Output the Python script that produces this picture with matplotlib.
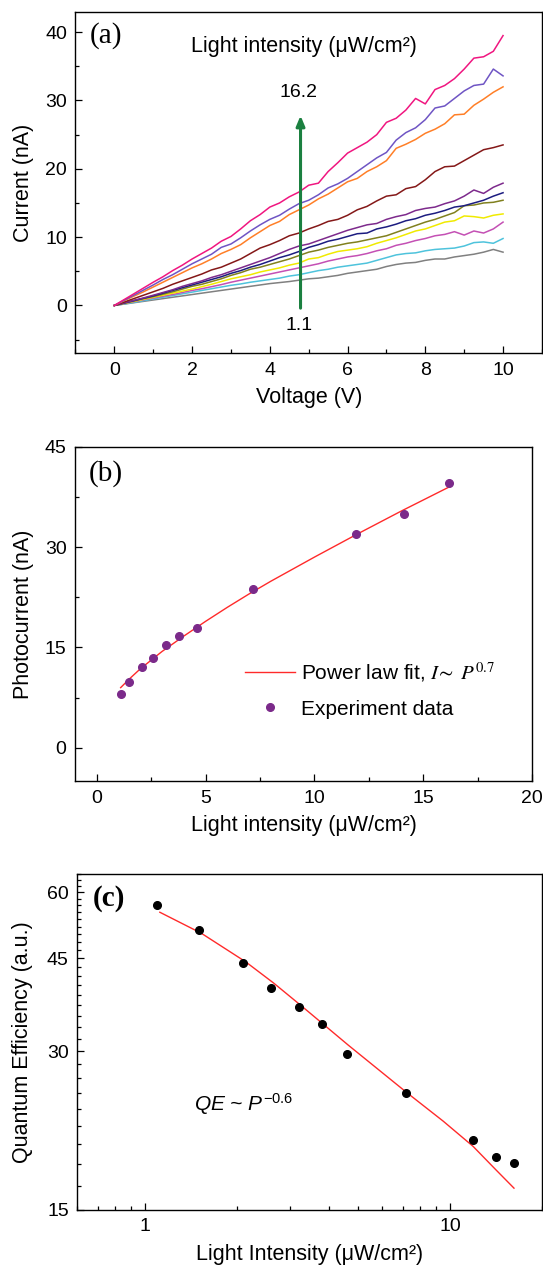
import numpy as np
import matplotlib
matplotlib.use("Agg")
import matplotlib.pyplot as plt
from matplotlib.ticker import MultipleLocator, FixedLocator, LogLocator, NullFormatter, FormatStrFormatter
from matplotlib.lines import Line2D

plt.rcParams["font.family"] = ["Liberation Sans", "DejaVu Sans"]
plt.rcParams["mathtext.fontset"] = "custom"
plt.rcParams["mathtext.it"] = "Liberation Sans:italic"
plt.rcParams["mathtext.rm"] = "Liberation Sans"
plt.rcParams["axes.linewidth"] = 1.0

# ---- (a) I-V curves for each light intensity ----
voltage = np.linspace(0, 10, 41)
i_16p2 = [0, 0.85, 1.7, 2.55, 3.4, 4.2, 5.1, 5.9, 6.8, 7.6, 8.4, 9.4, 10.1, 11.2, 12.4, 13.3, 14.4, 15.0, 15.9, 16.6,
          17.6, 17.9, 19.6, 20.9, 22.3, 23.1, 23.9, 25.0, 26.8, 27.4, 28.6, 30.3, 29.5, 31.6, 32.2, 33.2, 34.6, 36.2,
          36.4, 37.2, 39.5]
i_14p1 = [0, 0.75, 1.5, 2.25, 3.0, 3.8, 4.5, 5.3, 6.1, 6.8, 7.5, 8.5, 9.0, 9.9, 10.9, 11.8, 12.6, 13.2, 14.1, 14.9,
          15.4, 16.2, 17.2, 17.8, 18.6, 19.6, 20.6, 21.6, 22.4, 24.2, 25.3, 26.0, 27.2, 28.9, 29.2, 30.3, 31.4, 32.2,
          32.4, 34.6, 33.6]
i_11p9 = [0, 0.7, 1.35, 2.0, 2.7, 3.4, 4.1, 4.8, 5.5, 6.1, 6.8, 7.6, 8.2, 8.9, 9.9, 10.8, 11.7, 12.3, 13.3, 14.0,
          14.7, 15.6, 16.3, 17.2, 18.1, 18.6, 19.6, 20.3, 21.2, 23.0, 23.6, 24.3, 25.2, 25.8, 26.6, 27.9, 28.0, 29.3,
          30.2, 31.2, 32.0]
i_7p2 = [0, 0.5, 1.0, 1.5, 2.0, 2.5, 3.1, 3.6, 4.1, 4.6, 5.2, 5.6, 6.2, 6.8, 7.6, 8.4, 8.9, 9.5, 10.2, 10.6,
         11.2, 11.7, 12.3, 12.6, 13.2, 14.0, 14.5, 15.3, 16.0, 16.2, 17.1, 17.4, 18.4, 19.6, 20.3, 20.4, 21.2, 22.0,
         22.8, 23.1, 23.5]
i_4p6 = [0, 0.38, 0.75, 1.1, 1.5, 1.9, 2.3, 2.8, 3.2, 3.6, 4.1, 4.5, 5.0, 5.5, 6.0, 6.5, 7.0, 7.6, 8.2, 8.7,
         9.0, 9.5, 10.0, 10.5, 11.0, 11.4, 11.8, 12.0, 12.6, 13.0, 13.3, 13.9, 14.2, 14.4, 14.9, 15.3, 16.0, 16.9,
         16.4, 17.3, 17.9]
i_3p8 = [0, 0.35, 0.7, 1.05, 1.4, 1.8, 2.2, 2.6, 3.0, 3.4, 3.8, 4.2, 4.7, 5.1, 5.6, 6.0, 6.5, 7.0, 7.4, 7.9,
         8.5, 8.9, 9.4, 9.7, 10.1, 10.5, 10.6, 11.2, 11.5, 11.9, 12.4, 12.7, 13.2, 13.5, 13.9, 14.4, 14.6, 15.0,
         15.4, 16.0, 16.5]
i_3p2 = [0, 0.33, 0.65, 1.0, 1.3, 1.65, 2.0, 2.4, 2.8, 3.1, 3.5, 3.9, 4.4, 4.8, 5.3, 5.6, 6.0, 6.4, 6.8, 7.3,
         7.8, 8.1, 8.5, 8.8, 9.1, 9.3, 9.6, 9.9, 10.2, 10.7, 11.2, 11.7, 12.2, 12.6, 13.1, 13.6, 14.6, 14.7,
         15.0, 15.1, 15.4]
i_2p6 = [0, 0.3, 0.6, 0.9, 1.2, 1.5, 1.8, 2.1, 2.4, 2.75, 3.1, 3.5, 3.9, 4.2, 4.5, 4.9, 5.2, 5.5, 5.9, 6.2,
         6.8, 7.0, 7.5, 7.9, 8.1, 8.3, 8.6, 9.1, 9.5, 9.9, 10.4, 10.9, 11.2, 11.7, 12.2, 12.4, 13.1, 13.0,
         12.8, 13.2, 13.4]
i_2p1 = [0, 0.27, 0.55, 0.83, 1.1, 1.35, 1.6, 1.9, 2.2, 2.45, 2.75, 3.05, 3.4, 3.7, 4.0, 4.3, 4.6, 4.9, 5.2, 5.5,
         5.8, 6.1, 6.5, 6.8, 7.1, 7.3, 7.6, 8.0, 8.3, 8.8, 9.1, 9.5, 9.8, 10.2, 10.4, 10.8, 10.3, 10.9,
         10.6, 11.2, 12.2]
i_1p5 = [0, 0.22, 0.45, 0.7, 0.95, 1.2, 1.45, 1.7, 1.95, 2.2, 2.45, 2.7, 2.95, 3.15, 3.4, 3.6, 3.8, 4.0, 4.3, 4.5,
         4.8, 5.1, 5.3, 5.6, 5.8, 6.0, 6.2, 6.6, 7.0, 7.4, 7.6, 7.7, 8.0, 8.2, 8.3, 8.4, 8.7, 9.2,
         9.3, 9.1, 9.8]
i_1p1 = [0, 0.2, 0.4, 0.6, 0.8, 1.0, 1.2, 1.4, 1.6, 1.8, 2.0, 2.2, 2.4, 2.6, 2.8, 3.0, 3.2, 3.35, 3.5, 3.7,
         3.9, 4.0, 4.2, 4.4, 4.7, 4.9, 5.1, 5.3, 5.7, 6.0, 6.2, 6.3, 6.6, 6.8, 6.8, 7.1, 7.3, 7.5,
         7.8, 8.2, 7.8]

iv_curves = [i_1p1, i_1p5, i_2p1, i_2p6, i_3p2, i_3p8, i_4p6, i_7p2, i_11p9, i_14p1, i_16p2]
iv_colors = ["#808080", "#4ec3dc", "#c450b4", "#f0ea00", "#80801e", "#1c1c80",
             "#7d2a8c", "#841818", "#ff7f27", "#6f55c4", "#f01680"]

# ---- (b) photocurrent vs intensity ----
intensity = [1.1, 1.5, 2.1, 2.6, 3.2, 3.8, 4.6, 7.2, 11.9, 14.1, 16.2]
photocurrent = [8.1, 9.8, 12.1, 13.4, 15.3, 16.7, 17.9, 23.7, 32.0, 34.9, 39.5]
fit_p = [1.1, 1.5, 2.0, 3.0, 4.0, 5.0, 6.0, 7.0, 8.0, 10.0, 12.0, 14.0, 16.2]
fit_i = [9.0, 10.3, 11.8, 14.4, 16.7, 18.9, 21.0, 23.0, 24.9, 28.5, 32.0, 35.4, 39.0]

# ---- (c) quantum efficiency vs intensity ----
qe = [56.8, 50.9, 44.1, 39.5, 36.3, 33.8, 29.6, 25.0, 20.4, 18.9, 18.4]
qe_fit_p = [1.12, 1.53, 2.14, 2.64, 3.25, 3.83, 4.64, 7.24, 9.5, 11.9, 14.1, 16.2]
qe_fit = [55.0, 50.2, 44.3, 40.4, 36.6, 33.8, 30.8, 25.0, 22.1, 19.8, 17.9, 16.5]

fig = plt.figure(figsize=(5.43, 12.69), dpi=100)
ax_a = fig.add_axes([0.139, 0.7216, 0.859, 0.2692])
ax_b = fig.add_axes([0.138, 0.3843, 0.842, 0.2637])
ax_c = fig.add_axes([0.142, 0.0465, 0.856, 0.2648])

TICK = 14
LAB = 15.5
for ax in (ax_a, ax_b, ax_c):
    ax.tick_params(which="both", direction="in", top=False, right=False, labelsize=TICK, width=0.9, pad=6)
    ax.tick_params(which="major", length=5)
    ax.tick_params(which="minor", length=3)

# (a)
for cur, col in zip(iv_curves, iv_colors):
    ax_a.plot(voltage, cur, color=col, lw=1.1)
ax_a.annotate("", xy=(4.79, 28.2), xytext=(4.79, -0.8),
              arrowprops=dict(arrowstyle="-|>,head_width=0.25,head_length=0.6", color="#1b8040", lw=2.2))
ax_a.text(4.73, 31.1, "16.2", ha="center", va="center", fontsize=TICK)
ax_a.text(4.76, -2.9, "1.1", ha="center", va="center", fontsize=TICK)
ax_a.text(4.89, 37.9, "Light intensity (μW/cm²)", ha="center", va="center", fontsize=LAB)
ax_a.text(0.03, 0.93, "(a)", transform=ax_a.transAxes, fontsize=21, family="Liberation Serif", va="center")
ax_a.set_xlim(-1, 11)
ax_a.set_ylim(-7, 43)
ax_a.xaxis.set_major_locator(MultipleLocator(2))
ax_a.xaxis.set_minor_locator(MultipleLocator(1))
ax_a.yaxis.set_major_locator(MultipleLocator(10))
ax_a.yaxis.set_minor_locator(MultipleLocator(5))
ax_a.set_xlabel("Voltage (V)", fontsize=LAB)
ax_a.set_ylabel("Current (nA)", fontsize=LAB)

# (b)
ax_b.plot(fit_p, fit_i, color="#ff2a2a", lw=1.0)
ax_b.plot(intensity, photocurrent, "o", color="#7b2a8a", ms=5.5, ls="none")
ax_b.text(0.031, 0.92, "(b)", transform=ax_b.transAxes, fontsize=21, family="Liberation Serif", va="center")
ax_b.set_xlim(-1, 20)
ax_b.set_ylim(-5, 45)
ax_b.xaxis.set_major_locator(MultipleLocator(5))
ax_b.xaxis.set_minor_locator(MultipleLocator(2.5))
ax_b.yaxis.set_major_locator(MultipleLocator(15))
ax_b.yaxis.set_minor_locator(MultipleLocator(7.5))
ax_b.set_xlabel("Light intensity (μW/cm²)", fontsize=LAB)
ax_b.set_ylabel("Photocurrent (nA)", fontsize=LAB)
handles = [Line2D([], [], color="#ff2a2a", lw=1.0),
           Line2D([], [], color="#7b2a8a", marker="o", ms=5.5, ls="none")]
leg = ax_b.legend(handles, [r"Power law fit, $I\!\sim\ P^{0.7}$", "Experiment data"],
                  loc="center left", bbox_to_anchor=(0.372, 0.274), frameon=False, fontsize=15,
                  handlelength=2.4, handletextpad=0.3, labelspacing=0.75, borderpad=0, borderaxespad=0)
leg.get_texts()[0].set_math_fontfamily("stix")

# (c)
ax_c.set_xscale("log")
ax_c.set_yscale("log")
ax_c.plot(qe_fit_p, qe_fit, color="#ff2a2a", lw=1.0)
ax_c.plot(intensity, qe, "o", color="black", ms=5.5, ls="none")
ax_c.text(1.45, 23.8, r"$QE$ ~ $P^{\mathrm{-0.6}}$", fontsize=15, style="italic", va="center", ha="left")
ax_c.text(0.034, 0.928, "(c)", transform=ax_c.transAxes, fontsize=21, family="Liberation Serif",
          weight="bold", va="center")
ax_c.set_xlim(0.6, 20)
ax_c.set_ylim(15, 65)
ax_c.xaxis.set_major_locator(FixedLocator([1, 10]))
ax_c.xaxis.set_major_formatter(FormatStrFormatter("%g"))
ax_c.xaxis.set_minor_locator(LogLocator(base=10, subs=np.arange(2, 10)))
ax_c.xaxis.set_minor_formatter(NullFormatter())
ax_c.yaxis.set_major_locator(FixedLocator([15, 30, 45, 60]))
ax_c.yaxis.set_major_formatter(FormatStrFormatter("%g"))
ax_c.yaxis.set_minor_locator(FixedLocator(list(np.arange(15, 65.1, 15 / 9))))
ax_c.yaxis.set_minor_formatter(NullFormatter())
ax_c.set_xlabel("Light Intensity (μW/cm²)", fontsize=LAB)
ax_c.set_ylabel("Quantum Efficiency (a.u.)", fontsize=LAB)

for ax, lx in ((ax_a, -0.089), (ax_b, -0.09), (ax_c, -0.094)):
    ax.yaxis.set_label_coords(lx, 0.5)
    ax.xaxis.set_label_coords(0.5, -0.10)
    ax.xaxis.label.set_va("top")

fig.savefig("out.png", dpi=100)
